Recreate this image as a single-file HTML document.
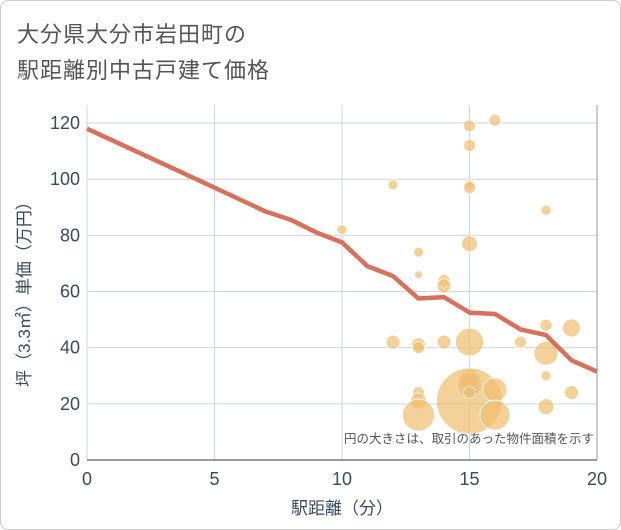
<!DOCTYPE html>
<html><head><meta charset="utf-8"><style>
body{margin:0;background:#fff;font-family:"Liberation Sans","Noto Sans CJK JP",sans-serif}
#wrap{position:relative;width:619px;height:528px;border:1px solid #ccc;border-radius:8px;background:#fff;overflow:hidden}
.t{position:absolute;left:16px;font-size:22px;color:#555;letter-spacing:1px}
</style></head><body>
<div id="wrap">
<div class="t" style="top:16px">大分県大分市岩田町の</div>
<div class="t" style="top:52px">駅距離別中古戸建て価格</div>
<svg id="c" width="621" height="530" style="position:absolute;left:-1px;top:-1px"></svg>
</div>
<script>
const lineX=[0,5,7,8,9,10,11,12,13,14,15,16,17,18,19,20];
const lineY=[118,97,88.5,85.5,81,77.5,69,65.5,57.5,58,52.5,52,46.5,44.5,35.5,31.5];
const bubX=[10,12,12,13,13,13,13,13,13,13,14,14,14,15,15,15,15,15,15,15,15,15,15,16,16,16,17,18,18,18,18,18,19,19];
const bubY=[82,98,42,74,66,41,40,24,21,16,64,62,42,119,112,98,97,77,42,29,27,21,24,121,25,16,42,89,48,38,30,19,47,24];
const bubR=[5,5,7,5,4,7,6,6,8,16,6,7,7,6,6,5,6,8,14,10,12,33,6,6,12,15,6,5,6,12,5,8,9,7];
const xTicks=[0,5,10,15,20];
const yTicks=[0,20,40,60,80,100,120];
const NS="http://www.w3.org/2000/svg";
const svg=document.getElementById('c');
const TXT='#3b4b5c';
const X=v=>87+v*25.5, Y=v=>460-v*2.808;
function mk(t,a,txt){const e=document.createElementNS(NS,t);for(const k in a)e.setAttribute(k,a[k]);if(txt!=null)e.textContent=txt;svg.appendChild(e);return e;}
for(const v of xTicks){const e=mk('line',{x1:X(v),x2:X(v),y1:105,y2:460,stroke:'#c9d6e3','stroke-width':1});


const t=mk('text',{x:X(v),y:485,'text-anchor':'middle','font-size':18,fill:TXT},v);

}
for(const v of yTicks){const e=mk('line',{x1:87,x2:597,y1:Y(v),y2:Y(v),stroke:'#c9d6e3','stroke-width':1});


const t=mk('text',{x:80,y:Y(v)+6,'text-anchor':'end','font-size':18,fill:TXT},v);

}
const ax=mk('line',{x1:87,x2:597,y1:460,y2:460,stroke:'#333','stroke-width':1});


const rb=mk('line',{x1:597,x2:597,y1:105,y2:460,stroke:'#999','stroke-width':1});


for(let i=0;i<bubX.length;i++){const c=mk('circle',{cx:X(bubX[i]),cy:Y(bubY[i]),r:bubR[i],fill:'rgba(240,190,110,0.7)',stroke:'#fff','stroke-width':0.8});

}
const p=mk('polyline',{points:lineX.map((x,i)=>X(x)+','+Y(lineY[i])).join(' '),fill:'none',stroke:'#d9705a','stroke-width':4.5,'stroke-linejoin':'round'});


const n=mk('text',{x:594,y:443,'text-anchor':'end','font-size':12.5,fill:'#555'},'円の大きさは、取引のあった物件面積を示す');


const xt=mk('text',{x:342,y:514,'text-anchor':'middle','font-size':17,fill:TXT},'駅距離（分）');


const yt=mk('text',{x:30,y:290,'text-anchor':'middle','font-size':17,fill:TXT,transform:'rotate(-90 30 290)'},'坪（3.3㎡）単価（万円）');


</script>
</body></html>
